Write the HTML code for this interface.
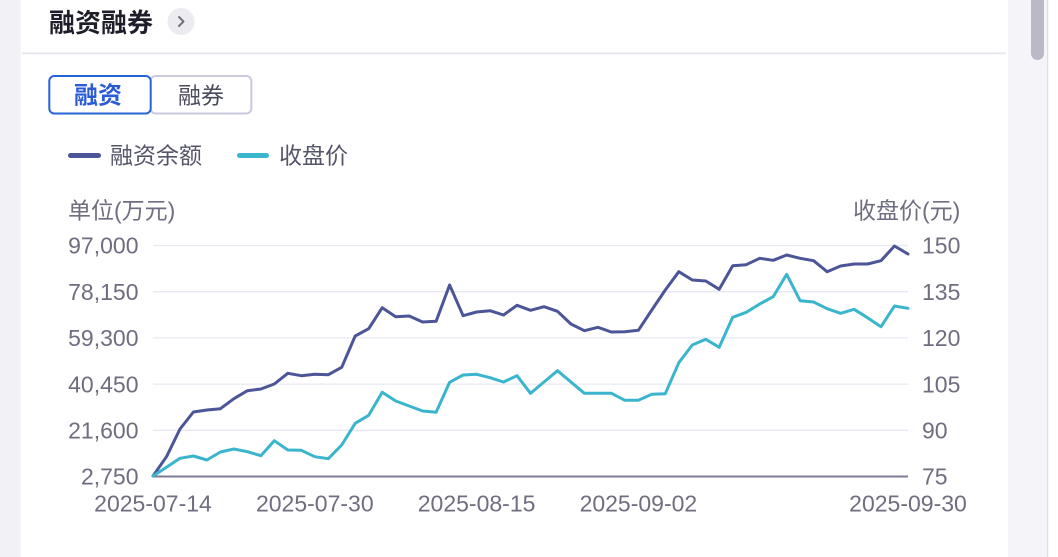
<!DOCTYPE html>
<html>
<head>
<meta charset="utf-8">
<style>
html,body{margin:0;padding:0;background:#fff;}
body{width:1058px;height:557px;overflow:hidden;}
svg{display:block;}
text{font-family:"Liberation Sans","Noto Sans CJK SC",sans-serif;}
</style>
</head>
<body>
<svg width="1058" height="557" viewBox="0 0 1058 557" xmlns="http://www.w3.org/2000/svg">
  <!-- backgrounds -->
  <rect x="0" y="0" width="1058" height="557" fill="#ffffff"/>
  <rect x="0" y="0" width="20.5" height="557" fill="#f1f1f6"/>
  <rect x="1008" y="0" width="39.5" height="557" fill="#f4f4f9"/>
  <rect x="1047" y="0" width="1.2" height="557" fill="#dedeea"/>
  <rect x="1031" y="-8" width="13" height="68" rx="6.5" fill="#b9b9c9"/>

  <!-- header -->
  <text x="49" y="32" font-size="26" font-weight="bold" fill="#1e1e2a">融资融券</text>
  <circle cx="181" cy="21.5" r="13.5" fill="#ebebf0"/>
  <polyline points="179,17 183.5,21.5 179,26" fill="none" stroke="#70707f" stroke-width="2" stroke-linecap="round" stroke-linejoin="round"/>
  <rect x="22" y="52.3" width="984" height="2" fill="#e6e6ee"/>

  <!-- tabs -->
  <rect x="150.5" y="76" width="100.8" height="37.5" rx="5" fill="#fff" stroke="#c9c9df" stroke-width="2"/>
  <rect x="49.3" y="76" width="101.4" height="37.5" rx="5" fill="#fff" stroke="#2563d9" stroke-width="2"/>
  <text x="98" y="103.6" font-size="24" font-weight="bold" fill="#2b5bd6" text-anchor="middle">融资</text>
  <text x="201" y="103.6" font-size="23" fill="#4b4b5e" text-anchor="middle">融券</text>

  <!-- legend -->
  <line x1="70.5" y1="155.5" x2="98.5" y2="155.5" stroke="#4b5598" stroke-width="5" stroke-linecap="round"/>
  <text x="110" y="163.5" font-size="23" fill="#55556a">融资余额</text>
  <line x1="239.5" y1="155.5" x2="266.5" y2="155.5" stroke="#3ab5cd" stroke-width="5" stroke-linecap="round"/>
  <text x="279" y="163.5" font-size="23" fill="#55556a">收盘价</text>

  <!-- axis titles -->
  <text x="68" y="218.5" font-size="23" fill="#6e6e80">单位(万元)</text>
  <text x="853" y="218.5" font-size="23" fill="#6e6e80">收盘价(元)</text>

  <!-- grid -->
  <g stroke="#e8e8f3" stroke-width="1.3">
    <line x1="153" y1="245.5" x2="908" y2="245.5"/>
    <line x1="153" y1="291.7" x2="908" y2="291.7"/>
    <line x1="153" y1="337.9" x2="908" y2="337.9"/>
    <line x1="153" y1="384.1" x2="908" y2="384.1"/>
    <line x1="153" y1="430.3" x2="908" y2="430.3"/>
  </g>
  <line x1="153" y1="476.5" x2="908" y2="476.5" stroke="#7b7b98" stroke-width="2"/>

  <!-- left labels -->
  <g font-size="23" fill="#6e6e80" text-anchor="end">
    <text x="138.5" y="253.7">97,000</text>
    <text x="138.5" y="299.9">78,150</text>
    <text x="138.5" y="346.1">59,300</text>
    <text x="138.5" y="392.3">40,450</text>
    <text x="138.5" y="438.5">21,600</text>
    <text x="138.5" y="484.7">2,750</text>
  </g>
  <!-- right labels -->
  <g font-size="23" fill="#6e6e80">
    <text x="922" y="253.7">150</text>
    <text x="922" y="299.9">135</text>
    <text x="922" y="346.1">120</text>
    <text x="922" y="392.3">105</text>
    <text x="922" y="438.5">90</text>
    <text x="922" y="484.7">75</text>
  </g>
  <!-- x labels -->
  <g font-size="23" fill="#6e6e80" text-anchor="middle">
    <text x="153" y="511.5">2025-07-14</text>
    <text x="314.8" y="511.5">2025-07-30</text>
    <text x="476.6" y="511.5">2025-08-15</text>
    <text x="638.4" y="511.5">2025-09-02</text>
    <text x="908" y="511.5">2025-09-30</text>
  </g>

  <!-- series: 融资余额 -->
  <polyline fill="none" stroke="#4b5598" stroke-width="3" stroke-linejoin="round" stroke-linecap="round"
    points="153.0,476 166.5,456.7 180.0,429 193.4,412 206.9,410 220.4,408.7 233.9,398.7 247.4,390.7 260.9,389 274.3,384 287.8,373.3 301.3,375.7 314.8,374.3 328.3,374.7 341.7,367.3 355.2,336 368.7,328.7 382.2,307.7 395.7,316.7 409.2,316 422.6,322 436.1,321.3 449.6,285 463.1,315.7 476.6,312 490.1,310.7 503.5,315 517.0,305.3 530.5,310.3 544.0,306.7 557.5,311.3 570.9,324 584.4,330.7 597.9,327.3 611.4,332 624.9,331.7 638.4,330.3 651.8,310 665.3,290 678.8,271.7 692.3,280 705.8,281 719.2,289.3 732.7,265.7 746.2,264.7 759.7,258.3 773.2,260.3 786.7,255 800.1,258.3 813.6,260.7 827.1,271.7 840.6,266 854.1,264 867.5,264 881.0,260.7 894.5,246 908.0,254"/>
  <!-- series: 收盘价 -->
  <polyline fill="none" stroke="#3ab5cd" stroke-width="3" stroke-linejoin="round" stroke-linecap="round"
    points="153.0,476 166.5,467.3 180.0,458.3 193.4,456 206.9,460 220.4,452 233.9,449 247.4,451.7 260.9,455.7 274.3,440.7 287.8,450 301.3,450.3 314.8,456.7 328.3,458.7 341.7,445 355.2,423.3 368.7,415.3 382.2,392.3 395.7,401 409.2,406 422.6,411 436.1,412.3 449.6,382.3 463.1,375 476.6,374.3 490.1,377.7 503.5,382 517.0,375.7 530.5,393.3 544.0,382 557.5,370.7 570.9,382 584.4,393.3 597.9,393.3 611.4,393.3 624.9,400.3 638.4,400.3 651.8,394.3 665.3,393.7 678.8,362.7 692.3,345 705.8,339.3 719.2,347.3 732.7,317.3 746.2,312.3 759.7,304 773.2,296.7 786.7,274.3 800.1,300.7 813.6,302 827.1,308.7 840.6,313.3 854.1,309.3 867.5,317.7 881.0,326.7 894.5,306 908.0,308.3"/>
</svg>
</body>
</html>
